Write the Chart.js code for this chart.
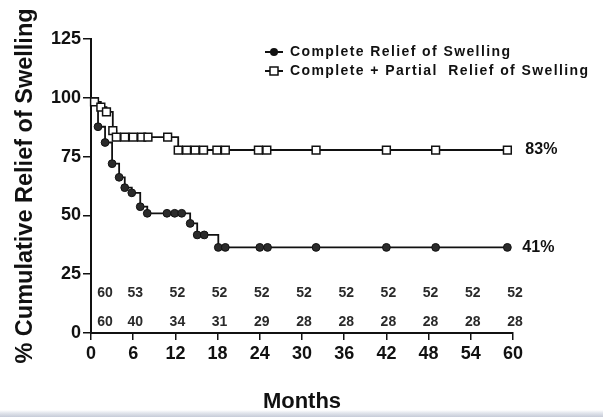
<!DOCTYPE html>
<html>
<head>
<meta charset="utf-8">
<script src="https://cdn.jsdelivr.net/npm/chart.js@4.4.1/dist/chart.umd.min.js"></script>
<style>
  html, body { margin: 0; padding: 0; background: #fff; }
  #wrap {
    width: 603px; height: 417px; position: relative;
    background: linear-gradient(to bottom, #fff 0, #fff 410px, #e2e5ec 413px, #c6cbd8 417px);
  }
</style>
</head>
<body>
<div id="wrap"><canvas id="km" width="603" height="417"></canvas></div>
<script>
// Kaplan-Meier style curves
const completeMonths = [0, 1, 2, 3, 4, 4.8, 5.8, 7, 8, 10.8, 11.9, 12.9, 14.1, 15.1, 16.1, 18.1, 19.1, 24, 25.1, 32, 42, 49, 59.2];
const completeValues = [100, 87.7, 81, 72, 66.2, 61.8, 59.6, 53.7, 50.9, 50.9, 50.9, 50.9, 46.6, 41.7, 41.7, 36.4, 36.4, 36.4, 36.4, 36.4, 36.4, 36.4, 36.4];

const partialMonths = [0, 0.5, 1.4, 2.2, 3.1, 3.6, 4.8, 6.0, 7.2, 8.1, 10.9, 12.4, 13.6, 14.8, 16.0, 17.9, 19.1, 23.8, 25.0, 32, 42, 49, 59.2];
const partialValues = [100, 98.3, 96, 94, 86, 83.3, 83.3, 83.3, 83.3, 83.3, 83.3, 77.8, 77.8, 77.8, 77.8, 77.8, 77.8, 77.8, 77.8, 77.8, 77.8, 77.8, 77.8];

const seriesNames = ['Complete Relief of Swelling', 'Complete + Partial  Relief of Swelling'];
const endLabels = ['41%', '83%'];

// numbers at risk
const riskMonths = [0, 6, 12, 18, 24, 30, 36, 42, 48, 54, 60];
const riskPartial = [60, 53, 52, 52, 52, 52, 52, 52, 52, 52, 52];
const riskComplete = [60, 40, 34, 31, 29, 28, 28, 28, 28, 28, 28];

const xTicks = [0, 6, 12, 18, 24, 30, 36, 42, 48, 54, 60];
const yTicks = [0, 25, 50, 75, 100, 125];

const FONT = "'Liberation Sans', Arial, sans-serif";

const toPoints = (xs, ys) => xs.map((m, i) => ({ x: m, y: ys[i] }));

// legend, end labels and at-risk rows
const extras = {
    id: 'extras',
    afterDatasetsDraw(chart) {
        const { ctx, scales: { x, y } } = chart;
        ctx.save();
        ctx.fillStyle = '#111';
        ctx.strokeStyle = '#111';

        // legend
        ctx.font = 'bold 14px ' + FONT;
        ctx.textBaseline = 'middle';
        ctx.textAlign = 'left';
        if ('letterSpacing' in ctx) ctx.letterSpacing = '1.4px';
        const rows = [52, 71];
        rows.forEach((ly, i) => {
            ctx.lineWidth = 2;
            ctx.beginPath();
            ctx.moveTo(265, ly);
            ctx.lineTo(283, ly);
            ctx.stroke();
            if (i === 0) {
                ctx.beginPath();
                ctx.arc(274, ly, 4, 0, Math.PI * 2);
                ctx.fill();
            } else {
                ctx.fillStyle = '#fff';
                ctx.fillRect(270, ly - 4, 8, 8);
                ctx.lineWidth = 1.5;
                ctx.strokeRect(270, ly - 4, 8, 8);
                ctx.fillStyle = '#111';
            }
            ctx.fillText(seriesNames[i], 290, ly);
        });
        if ('letterSpacing' in ctx) ctx.letterSpacing = '0px';

        // percentages at the end of each curve
        ctx.font = 'bold 16px ' + FONT;
        const lastC = completeMonths.length - 1;
        const lastP = partialMonths.length - 1;
        ctx.fillText(endLabels[0], x.getPixelForValue(completeMonths[lastC]) + 15, y.getPixelForValue(completeValues[lastC]));
        ctx.fillText(endLabels[1], x.getPixelForValue(partialMonths[lastP]) + 18, y.getPixelForValue(partialValues[lastP]));

        // numbers at risk
        ctx.font = 'bold 14px ' + FONT;
        ctx.fillStyle = '#2a2a2a';
        ctx.textAlign = 'center';
        riskMonths.forEach((m, i) => {
            const px = x.getPixelForValue(m) + (i === 0 ? 14 : 2);
            ctx.fillText(String(riskPartial[i]), px, y.bottom - 40);
            ctx.fillText(String(riskComplete[i]), px, y.bottom - 11);
        });
        ctx.restore();
    }
};

const hideFirst = r => c => (c.dataIndex === 0 ? 0 : r);

new Chart(document.getElementById('km'), {
    type: 'line',
    data: {
        datasets: [
            {
                label: seriesNames[1],
                data: toPoints(partialMonths, partialValues),
                stepped: 'before',
                borderColor: '#111',
                borderWidth: 1.8,
                pointStyle: 'rect',
                pointRadius: hideFirst(5.5),
                pointBackgroundColor: '#fff',
                pointBorderColor: '#111',
                pointBorderWidth: 1.5,
                clip: false
            },
            {
                label: seriesNames[0],
                data: toPoints(completeMonths, completeValues),
                stepped: 'before',
                borderColor: '#111',
                borderWidth: 1.8,
                pointStyle: 'circle',
                pointRadius: hideFirst(3.9),
                pointBackgroundColor: '#2b2b2b',
                pointBorderColor: '#111',
                pointBorderWidth: 1,
                clip: false
            }
        ]
    },
    options: {
        responsive: false,
        animation: false,
        devicePixelRatio: 1,
        layout: { padding: { left: 0, right: 90, top: 39, bottom: 0 } },
        plugins: {
            legend: { display: false },
            tooltip: { enabled: false }
        },
        scales: {
            x: {
                type: 'linear',
                min: 0,
                max: 60,
                afterFit: s => { s.height = 84; },
                afterBuildTicks: s => { s.ticks = xTicks.map(v => ({ value: v })); },
                border: { display: true, color: '#111', width: 2 },
                grid: { drawOnChartArea: false, drawTicks: true, tickLength: 7, color: '#111', lineWidth: 1.5 },
                ticks: { color: '#111', padding: 3, maxRotation: 0, font: { family: FONT, size: 18, weight: 'bold' } },
                title: { display: true, text: 'Months', color: '#111', padding: { top: 0, bottom: 2 }, font: { family: FONT, size: 22, weight: 'bold' } }
            },
            y: {
                type: 'linear',
                min: 0,
                max: 125,
                afterFit: s => { s.width = 91; },
                afterBuildTicks: s => { s.ticks = yTicks.map(v => ({ value: v })); },
                border: { display: true, color: '#111', width: 2 },
                grid: { drawOnChartArea: false, drawTicks: true, tickLength: 8, color: '#111', lineWidth: 1.5 },
                ticks: { color: '#111', padding: 2, font: { family: FONT, size: 18, weight: 'bold' } },
                title: { display: true, text: '% Cumulative Relief of Swelling', color: '#111', padding: { top: 11, bottom: 0 }, font: { family: FONT, size: 23.5, weight: 'bold' } }
            }
        }
    },
    plugins: [extras]
});
</script>
</body>
</html>
